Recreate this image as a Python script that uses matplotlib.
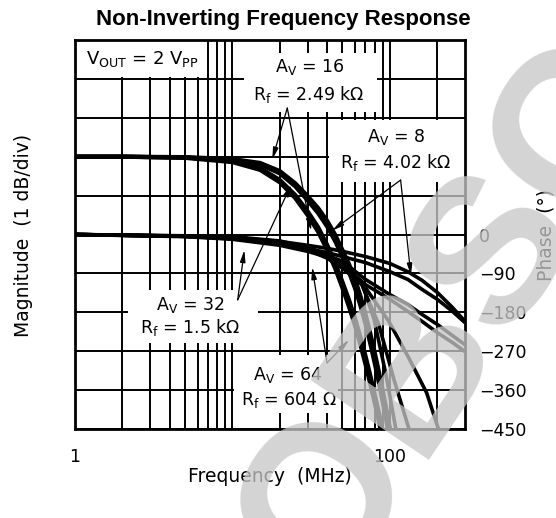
import matplotlib
matplotlib.use("Agg")
import matplotlib.pyplot as plt
from matplotlib.patches import Rectangle

# ---------------- data ----------------
# magnitude curves, dB (0 dB normalised), frequency in MHz
mag_f = [1, 2, 5, 10, 15, 20, 25, 30, 35, 40, 45, 50, 55, 60, 65, 70, 75, 80, 85, 90, 95, 100, 105]
mag_av8 = [0.0, 0.0, -0.01, -0.06, -0.16, -0.37, -0.68, -1.01, -1.32, -1.65, -2.01, -2.40, -2.76,
           -3.14, -3.58, -4.04, -4.53, -5.02, -5.51, -6.00, -6.49, -6.97, -7.4]
mag_av16 = [0.0, 0.0, -0.02, -0.08, -0.20, -0.43, -0.76, -1.12, -1.45, -1.80, -2.18, -2.58, -2.97,
            -3.38, -3.83, -4.30, -4.80, -5.30, -5.80, -6.30, -6.80, -7.3, -7.6]
mag_av32 = [0.0, 0.0, -0.02, -0.11, -0.29, -0.60, -0.98, -1.40, -1.81, -2.27, -2.73, -3.22, -3.68,
            -4.15, -4.63, -5.12, -5.61, -6.10, -6.56, -7.03, -7.4, -7.6, -7.8]
mag_av64 = [0.0, 0.0, -0.03, -0.14, -0.34, -0.66, -1.06, -1.50, -1.93, -2.40, -2.88, -3.38, -3.86,
            -4.34, -4.84, -5.34, -5.84, -6.32, -6.80, -7.25, -7.5, -7.7, -7.9]

# phase curves, degrees
ph_f = [1, 5, 10, 20, 30, 40, 50, 70, 100, 130, 160, 200, 250, 300]
ph_a = [0, -3, -7, -16, -25, -32, -39, -51, -67, -86, -106, -134, -169, -201]
ph_b = [0, -4, -9, -21, -32, -42, -51, -65, -86, -104, -127, -150, -178, -204]
ph_c = [0, -4, -10, -23, -36, -48, -62, -104, -139, -162, -185, -208, -234, -255]
ph_d = [0, -5, -11, -25, -39, -52, -69, -116, -150, -178, -201, -227, -250, -271]

steep1_f = [1, 10, 20, 30, 40, 47.6, 66.3, 98.5, 131.6, 171.1, 203]
steep1_p = [0, -5, -15, -30, -48, -69, -111, -201, -285, -366, -449]
steep2_f = [1, 10, 20, 30, 40, 50, 66.3, 79.4, 94.4, 109]
steep2_p = [0, -6, -17, -33, -52, -75, -111, -197, -324, -449]
steep3_f = [1, 10, 20, 30, 40, 50, 66.3, 85, 106, 132]
steep3_p = [0, -6, -18, -35, -55, -78, -116, -208, -335, -449]

x_ticks = [1, 10, 100]
x_ticklabels = ["1", "", "100"]
phase_ticks = [0, -90, -180, -270, -360, -450]
phase_ticklabels = ["0", "\u221290", "\u2212180", "\u2212270", "\u2212360", "\u2212450"]

# ---------------- figure ----------------
W, H = 556, 518
fig = plt.figure(figsize=(W / 100, H / 100), dpi=100)
ax = fig.add_axes([75 / W, 1 - 429 / H, 390 / W, 389 / H])
ax.set_xscale("log")
ax.set_xlim(1, 300)
ax.set_ylim(-7, 3)

minor = [m * d for d in (1, 10) for m in range(2, 10)] + [200]
ax.set_xticks(x_ticks)
ax.set_xticklabels(x_ticklabels)
ax.set_xticks(minor, minor=True)
ax.set_xticklabels([], minor=True)
ax.set_yticks(range(-7, 4))
ax.set_axisbelow(True)
ax.grid(which="both", color="k", lw=1.4)
ax.tick_params(which="both", length=0, labelleft=False)
ax.tick_params(axis="x", pad=14, labelsize=12.5)
for s in ax.spines.values():
    s.set_linewidth(2.0)

lab_font = dict(family="DejaVu Sans", fontsize=12.5)
axis_font = dict(family="DejaVu Sans", fontsize=13.5)

# white label boxes (cover the grid)
boxes = [((1.0, 2.04), 6.88, 3.0), ((11.9, 1.15), 82.7, 2.67), ((41, -0.65), 300, 0.94),
         ((2.16, -4.79), 14.6, -3.43), ((10.2, -6.59), 47, -5.10)]
for (x0, y0), x1, y1 in boxes:
    ax.add_patch(Rectangle((x0, y0), x1 - x0, y1 - y0, facecolor="white",
                           edgecolor="none", zorder=1))

# magnitude curves
for m in (mag_av8, mag_av16, mag_av32, mag_av64):
    ax.plot(mag_f, m, color="k", lw=3.0, zorder=3, solid_capstyle="butt")

# texts
ax.text(2.69, 2.51, r"V$_\mathregular{OUT}$ = 2 V$_\mathregular{PP}$", ha="center", va="center", zorder=4,
        family="DejaVu Sans", fontsize=13)
ax.text(31.2, 2.31, r"A$_\mathregular{V}$ = 16", ha="center", va="center", zorder=4, **lab_font)
ax.text(30.6, 1.59, r"R$_\mathregular{f}$ = 2.49 k$\Omega$", ha="center", va="center", zorder=4, **lab_font)
ax.text(109, 0.51, r"A$_\mathregular{V}$ = 8", ha="center", va="center", zorder=4, **lab_font)
ax.text(109, -0.14, r"R$_\mathregular{f}$ = 4.02 k$\Omega$", ha="center", va="center", zorder=4, **lab_font)
ax.text(5.42, -3.81, r"A$_\mathregular{V}$ = 32", ha="center", va="center", zorder=4, **lab_font)
ax.text(5.42, -4.40, r"R$_\mathregular{f}$ = 1.5 k$\Omega$", ha="center", va="center", zorder=4, **lab_font)
ax.text(22.6, -5.61, r"A$_\mathregular{V}$ = 64", ha="center", va="center", zorder=4, **lab_font)
ax.text(23.0, -6.25, r"R$_\mathregular{f}$ = 604 $\Omega$", ha="center", va="center", zorder=4, **lab_font)

# arrows
arrows = [((22.3, 1.25), (17.9, -0.07)), ((22.3, 1.25), (31.6, -1.9)),
          ((117, -0.60), (43, -1.9)), ((117, -0.60), (136, -3.05)),
          ((10.8, -3.68), (11.9, -2.40)), ((10.8, -3.68), (23.6, -0.72)),
          ((39.9, -5.30), (32.1, -2.84)), ((39.9, -5.30), (55, -4.71))]
for (sx, sy), (tx, ty) in arrows:
    ax.annotate("", xy=(tx, ty), xytext=(sx, sy), zorder=5,
                arrowprops=dict(arrowstyle="-|>,head_length=0.7,head_width=0.16",
                                lw=0.9, color="k", shrinkA=0, shrinkB=0))

# phase axis
ax2 = ax.twinx()
ax2.set_ylim(-450, 450)
ax2.set_yticks(phase_ticks)
ax2.set_yticklabels(phase_ticklabels)
ax2.tick_params(length=0, pad=10, labelsize=12.5)
for s in ax2.spines.values():
    s.set_visible(False)
for p in (ph_a, ph_b, ph_c, ph_d):
    ax2.plot(ph_f, p, color="k", lw=2.6, solid_capstyle="butt")
for fx, p in ((steep1_f, steep1_p), (steep2_f, steep2_p), (steep3_f, steep3_p)):
    ax2.plot(fx, p, color="k", lw=2.6, solid_capstyle="butt")
ax2.set_xlim(1, 300)

# axis labels and title
fig.text(24 / W, 1 - 235 / H, "Magnitude  (1 dB/div)", rotation=90, ha="center", va="center", **axis_font)
fig.text(546 / W, 1 - 235 / H, "Phase  (\u00b0)", rotation=90, ha="center", va="center", **axis_font)
fig.text(270 / W, 1 - 476 / H, "Frequency  (MHz)", ha="center", va="center", **axis_font)
fig.text(283 / W, 1 - 20 / H, "Non-Inverting Frequency Response", ha="center", va="center",
         family="Liberation Sans", fontweight="bold", fontsize=16)

# watermark
fig.text(328.0 / W, 1 - 598.0 / H, "OBSOLETE", rotation=56, rotation_mode="anchor",
         ha="left", va="baseline", fontsize=150, fontweight="bold", family="Liberation Sans",
         color=(0.78, 0.78, 0.78), alpha=0.77, zorder=10)

fig.savefig("out.png", dpi=100)
